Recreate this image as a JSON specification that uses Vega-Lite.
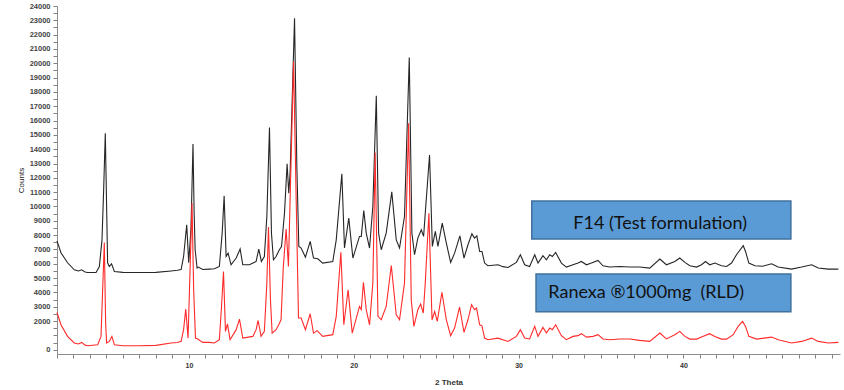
{
  "$schema": "https://vega.github.io/schema/vega-lite/v6.json",
  "width": 783,
  "height": 348,
  "autosize": {"type": "none"},
  "padding": {"left": 57, "top": 6, "right": 4, "bottom": 36},
  "background": "white",
  "config": {"view": {"stroke": null}},
  "resolve": {"axis": {"x": "independent", "y": "independent"}},
  "datasets": {
    "f14": [
      {"theta": 2.0, "counts": 7600}, {"theta": 2.24, "counts": 6770}, {"theta": 2.64, "counts": 6070}, {"theta": 3.05, "counts": 5580}, {"theta": 3.3, "counts": 5500}, {"theta": 3.5, "counts": 5580}, {"theta": 3.7, "counts": 5430}, {"theta": 3.86, "counts": 5390}, {"theta": 4.37, "counts": 5390}, {"theta": 4.57, "counts": 5810}, {"theta": 4.73, "counts": 7670}, {"theta": 4.83, "counts": 11160}, {"theta": 4.93, "counts": 15120}, {"theta": 5.01, "counts": 10000}, {"theta": 5.07, "counts": 6070}, {"theta": 5.17, "counts": 5810}, {"theta": 5.31, "counts": 6000}, {"theta": 5.48, "counts": 5460}, {"theta": 6.0, "counts": 5400}, {"theta": 7.0, "counts": 5390}, {"theta": 8.0, "counts": 5400}, {"theta": 8.92, "counts": 5500}, {"theta": 9.3, "counts": 5550}, {"theta": 9.53, "counts": 5600}, {"theta": 9.68, "counts": 6510}, {"theta": 9.87, "counts": 8720}, {"theta": 9.99, "counts": 6070}, {"theta": 10.13, "counts": 8500}, {"theta": 10.25, "counts": 14370}, {"theta": 10.32, "counts": 9500}, {"theta": 10.38, "counts": 6980}, {"theta": 10.5, "counts": 5700}, {"theta": 10.58, "counts": 5770}, {"theta": 10.84, "counts": 5600}, {"theta": 11.24, "counts": 5630}, {"theta": 11.55, "counts": 5650}, {"theta": 11.85, "counts": 5810}, {"theta": 12.02, "counts": 8140}, {"theta": 12.14, "counts": 10740}, {"theta": 12.26, "counts": 6510}, {"theta": 12.38, "counts": 6740}, {"theta": 12.56, "counts": 5930}, {"theta": 12.87, "counts": 6400}, {"theta": 13.11, "counts": 7030}, {"theta": 13.27, "counts": 5930}, {"theta": 13.67, "counts": 5930}, {"theta": 14.08, "counts": 6160}, {"theta": 14.24, "counts": 7030}, {"theta": 14.4, "counts": 6160}, {"theta": 14.58, "counts": 6510}, {"theta": 14.73, "counts": 9300}, {"theta": 14.89, "counts": 15510}, {"theta": 15.01, "counts": 8140}, {"theta": 15.13, "counts": 6280}, {"theta": 15.29, "counts": 6510}, {"theta": 15.49, "counts": 6980}, {"theta": 15.62, "counts": 7210}, {"theta": 15.8, "counts": 9530}, {"theta": 15.96, "counts": 12980}, {"theta": 16.06, "counts": 10930}, {"theta": 16.14, "counts": 12330}, {"theta": 16.41, "counts": 23140}, {"theta": 16.55, "counts": 12790}, {"theta": 16.67, "counts": 7210}, {"theta": 16.81, "counts": 7100}, {"theta": 17.07, "counts": 6460}, {"theta": 17.36, "counts": 7560}, {"theta": 17.56, "counts": 6400}, {"theta": 17.82, "counts": 6350}, {"theta": 18.12, "counts": 6050}, {"theta": 18.73, "counts": 6160}, {"theta": 18.94, "counts": 7670}, {"theta": 19.28, "counts": 12280}, {"theta": 19.44, "counts": 7100}, {"theta": 19.7, "counts": 9190}, {"theta": 19.95, "counts": 6400}, {"theta": 20.35, "counts": 7910}, {"theta": 20.46, "counts": 7910}, {"theta": 20.61, "counts": 9720}, {"theta": 20.76, "counts": 8140}, {"theta": 20.96, "counts": 7100}, {"theta": 21.16, "counts": 10000}, {"theta": 21.37, "counts": 17740}, {"theta": 21.51, "counts": 8140}, {"theta": 21.67, "counts": 6980}, {"theta": 21.97, "counts": 8140}, {"theta": 22.31, "counts": 11020}, {"theta": 22.58, "counts": 7670}, {"theta": 22.78, "counts": 7100}, {"theta": 23.08, "counts": 9300}, {"theta": 23.37, "counts": 20400}, {"theta": 23.53, "counts": 8140}, {"theta": 23.69, "counts": 6630}, {"theta": 23.89, "counts": 7790}, {"theta": 24.1, "counts": 8370}, {"theta": 24.24, "counts": 7910}, {"theta": 24.34, "counts": 9530}, {"theta": 24.6, "counts": 13600}, {"theta": 24.77, "counts": 7210}, {"theta": 24.95, "counts": 8260}, {"theta": 25.11, "counts": 7210}, {"theta": 25.37, "counts": 8840}, {"theta": 25.62, "counts": 7440}, {"theta": 25.88, "counts": 6090}, {"theta": 26.12, "counts": 6740}, {"theta": 26.44, "counts": 7950}, {"theta": 26.69, "counts": 6400}, {"theta": 26.93, "counts": 7330}, {"theta": 27.17, "counts": 8090}, {"theta": 27.33, "counts": 7790}, {"theta": 27.47, "counts": 7950}, {"theta": 27.64, "counts": 6860}, {"theta": 27.78, "counts": 6860}, {"theta": 27.94, "counts": 6050}, {"theta": 28.14, "counts": 5860}, {"theta": 28.45, "counts": 5900}, {"theta": 28.75, "counts": 5930}, {"theta": 29.05, "counts": 5800}, {"theta": 29.36, "counts": 5740}, {"theta": 29.87, "counts": 6100}, {"theta": 30.11, "counts": 6630}, {"theta": 30.37, "counts": 5930}, {"theta": 30.67, "counts": 5810}, {"theta": 30.98, "counts": 6630}, {"theta": 31.18, "counts": 6050}, {"theta": 31.48, "counts": 6560}, {"theta": 31.69, "counts": 6280}, {"theta": 31.89, "counts": 6630}, {"theta": 32.05, "counts": 6510}, {"theta": 32.25, "counts": 6790}, {"theta": 32.6, "counts": 6050}, {"theta": 32.9, "counts": 5770}, {"theta": 33.3, "counts": 5930}, {"theta": 33.61, "counts": 6050}, {"theta": 33.81, "counts": 6160}, {"theta": 34.12, "counts": 5930}, {"theta": 34.42, "counts": 6050}, {"theta": 34.82, "counts": 6230}, {"theta": 35.12, "counts": 5860}, {"theta": 35.53, "counts": 5770}, {"theta": 36.14, "counts": 5810}, {"theta": 36.75, "counts": 5770}, {"theta": 37.35, "counts": 5770}, {"theta": 37.96, "counts": 5700}, {"theta": 38.57, "counts": 6330}, {"theta": 38.97, "counts": 5930}, {"theta": 39.48, "counts": 6160}, {"theta": 39.78, "counts": 6400}, {"theta": 40.09, "counts": 6100}, {"theta": 40.39, "counts": 5860}, {"theta": 40.8, "counts": 5770}, {"theta": 41.1, "counts": 5930}, {"theta": 41.34, "counts": 6160}, {"theta": 41.6, "counts": 5930}, {"theta": 41.91, "counts": 6050}, {"theta": 42.31, "counts": 5860}, {"theta": 42.62, "counts": 5810}, {"theta": 42.92, "counts": 6050}, {"theta": 43.22, "counts": 6630}, {"theta": 43.63, "counts": 7260}, {"theta": 43.77, "counts": 6860}, {"theta": 43.97, "counts": 6050}, {"theta": 44.34, "counts": 5860}, {"theta": 44.8, "counts": 5830}, {"theta": 45.35, "counts": 6000}, {"theta": 45.75, "counts": 5770}, {"theta": 46.56, "counts": 5630}, {"theta": 47.17, "counts": 5770}, {"theta": 47.78, "counts": 5930}, {"theta": 48.18, "counts": 5700}, {"theta": 48.79, "counts": 5630}, {"theta": 49.4, "counts": 5630}
    ],
    "rld": [
      {"theta": 2.0, "counts": 2600}, {"theta": 2.24, "counts": 1740}, {"theta": 2.64, "counts": 930}, {"theta": 3.05, "counts": 470}, {"theta": 3.3, "counts": 400}, {"theta": 3.5, "counts": 510}, {"theta": 3.7, "counts": 320}, {"theta": 3.86, "counts": 280}, {"theta": 4.47, "counts": 350}, {"theta": 4.67, "counts": 930}, {"theta": 4.77, "counts": 4190}, {"theta": 4.87, "counts": 7490}, {"theta": 4.95, "counts": 1860}, {"theta": 5.01, "counts": 470}, {"theta": 5.17, "counts": 580}, {"theta": 5.33, "counts": 930}, {"theta": 5.48, "counts": 350}, {"theta": 6.0, "counts": 280}, {"theta": 7.0, "counts": 280}, {"theta": 8.0, "counts": 300}, {"theta": 8.92, "counts": 470}, {"theta": 9.3, "counts": 500}, {"theta": 9.53, "counts": 580}, {"theta": 9.68, "counts": 1400}, {"theta": 9.81, "counts": 2840}, {"theta": 9.95, "counts": 810}, {"theta": 10.19, "counts": 10230}, {"theta": 10.29, "counts": 4190}, {"theta": 10.4, "counts": 810}, {"theta": 10.54, "counts": 740}, {"theta": 10.84, "counts": 510}, {"theta": 11.24, "counts": 510}, {"theta": 11.55, "counts": 470}, {"theta": 11.85, "counts": 700}, {"theta": 11.98, "counts": 3020}, {"theta": 12.1, "counts": 5460}, {"theta": 12.22, "counts": 1280}, {"theta": 12.34, "counts": 1810}, {"theta": 12.5, "counts": 700}, {"theta": 12.87, "counts": 1400}, {"theta": 13.07, "counts": 2140}, {"theta": 13.27, "counts": 810}, {"theta": 13.88, "counts": 930}, {"theta": 14.08, "counts": 1400}, {"theta": 14.2, "counts": 2040}, {"theta": 14.38, "counts": 930}, {"theta": 14.58, "counts": 1280}, {"theta": 14.73, "counts": 4650}, {"theta": 14.83, "counts": 8560}, {"theta": 14.95, "counts": 3490}, {"theta": 15.05, "counts": 1160}, {"theta": 15.29, "counts": 1400}, {"theta": 15.45, "counts": 1740}, {"theta": 15.59, "counts": 2090}, {"theta": 15.73, "counts": 5810}, {"theta": 15.9, "counts": 8420}, {"theta": 16.04, "counts": 5810}, {"theta": 16.35, "counts": 20120}, {"theta": 16.51, "counts": 10470}, {"theta": 16.65, "counts": 2210}, {"theta": 16.81, "counts": 2210}, {"theta": 17.07, "counts": 1400}, {"theta": 17.36, "counts": 2510}, {"theta": 17.56, "counts": 1160}, {"theta": 17.78, "counts": 1330}, {"theta": 18.12, "counts": 930}, {"theta": 18.73, "counts": 1050}, {"theta": 18.94, "counts": 2330}, {"theta": 19.22, "counts": 6810}, {"theta": 19.4, "counts": 1740}, {"theta": 19.66, "counts": 4190}, {"theta": 19.91, "counts": 1160}, {"theta": 20.35, "counts": 3020}, {"theta": 20.46, "counts": 2790}, {"theta": 20.59, "counts": 4700}, {"theta": 20.76, "counts": 2790}, {"theta": 20.96, "counts": 1740}, {"theta": 21.16, "counts": 4650}, {"theta": 21.3, "counts": 13770}, {"theta": 21.47, "counts": 2330}, {"theta": 21.67, "counts": 2090}, {"theta": 21.97, "counts": 3020}, {"theta": 22.28, "counts": 5880}, {"theta": 22.58, "counts": 2440}, {"theta": 22.78, "counts": 2090}, {"theta": 23.08, "counts": 4650}, {"theta": 23.33, "counts": 15810}, {"theta": 23.49, "counts": 3490}, {"theta": 23.65, "counts": 1630}, {"theta": 23.89, "counts": 2790}, {"theta": 24.06, "counts": 3190}, {"theta": 24.22, "counts": 2560}, {"theta": 24.34, "counts": 4650}, {"theta": 24.56, "counts": 9530}, {"theta": 24.75, "counts": 2090}, {"theta": 24.91, "counts": 2670}, {"theta": 25.07, "counts": 1980}, {"theta": 25.35, "counts": 4010}, {"theta": 25.62, "counts": 2090}, {"theta": 25.88, "counts": 980}, {"theta": 26.12, "counts": 1510}, {"theta": 26.42, "counts": 2980}, {"theta": 26.69, "counts": 1210}, {"theta": 26.93, "counts": 2090}, {"theta": 27.15, "counts": 3140}, {"theta": 27.33, "counts": 2790}, {"theta": 27.45, "counts": 2910}, {"theta": 27.64, "counts": 1740}, {"theta": 27.78, "counts": 1670}, {"theta": 27.94, "counts": 810}, {"theta": 28.14, "counts": 700}, {"theta": 28.75, "counts": 810}, {"theta": 29.36, "counts": 580}, {"theta": 29.87, "counts": 930}, {"theta": 30.11, "counts": 1400}, {"theta": 30.37, "counts": 810}, {"theta": 30.67, "counts": 750}, {"theta": 30.98, "counts": 1630}, {"theta": 31.18, "counts": 930}, {"theta": 31.48, "counts": 1560}, {"theta": 31.69, "counts": 1160}, {"theta": 31.89, "counts": 1510}, {"theta": 32.05, "counts": 1400}, {"theta": 32.25, "counts": 1740}, {"theta": 32.6, "counts": 980}, {"theta": 32.9, "counts": 700}, {"theta": 33.3, "counts": 930}, {"theta": 33.61, "counts": 980}, {"theta": 33.81, "counts": 1120}, {"theta": 34.12, "counts": 880}, {"theta": 34.52, "counts": 930}, {"theta": 34.82, "counts": 1050}, {"theta": 35.12, "counts": 750}, {"theta": 35.53, "counts": 700}, {"theta": 36.14, "counts": 750}, {"theta": 36.75, "counts": 750}, {"theta": 37.35, "counts": 650}, {"theta": 37.96, "counts": 580}, {"theta": 38.57, "counts": 1160}, {"theta": 38.97, "counts": 750}, {"theta": 39.48, "counts": 1050}, {"theta": 39.78, "counts": 1280}, {"theta": 40.09, "counts": 930}, {"theta": 40.39, "counts": 740}, {"theta": 40.8, "counts": 740}, {"theta": 41.1, "counts": 880}, {"theta": 41.59, "counts": 1120}, {"theta": 41.91, "counts": 930}, {"theta": 42.31, "counts": 740}, {"theta": 42.62, "counts": 740}, {"theta": 43.02, "counts": 1050}, {"theta": 43.32, "counts": 1630}, {"theta": 43.59, "counts": 1980}, {"theta": 43.77, "counts": 1630}, {"theta": 43.97, "counts": 930}, {"theta": 44.44, "counts": 740}, {"theta": 45.35, "counts": 880}, {"theta": 45.75, "counts": 700}, {"theta": 46.56, "counts": 470}, {"theta": 47.17, "counts": 580}, {"theta": 47.78, "counts": 810}, {"theta": 48.18, "counts": 580}, {"theta": 48.79, "counts": 470}, {"theta": 49.4, "counts": 510}
    ],
    "boxes": [
      {"theta": 30.8, "theta2": 46.52, "counts": 7731, "counts2": 10384},
      {"theta": 31.06, "theta2": 46.52, "counts": 2654, "counts2": 5287}
    ],
    "labels": [
      {"label": "F14 (Test formulation)", "theta": 38.59, "counts": 8757},
      {"label": "Ranexa ®1000mg\u00a0\u00a0(RLD)", "theta": 37.74, "counts": 3960}
    ]
  },
  "layer": [
    {
      "data": {"name": "f14"},
      "mark": {"type": "line", "color": "#262626", "strokeWidth": 1.1},
      "encoding": {
        "x": {
          "field": "theta", "type": "quantitative",
          "scale": {"domain": [2, 49.5], "nice": false, "zero": false},
          "axis": {
            "orient": "bottom",
            "title": "2 Theta",
            "tickCount": 48,
            "labelExpr": "datum.value % 10 === 0 ? datum.label : ''",
            "format": "d",
            "grid": false,
            "tickSize": 4,
            "tickColor": "#808080",
            "domainColor": "#8c8c8c",
            "labelFont": "Liberation Sans",
            "labelFontSize": 7,
            "labelFontWeight": "bold",
            "labelColor": "#333333",
            "labelPadding": 3,
            "titleFont": "Liberation Sans",
            "titleFontSize": 8,
            "titleFontWeight": "bold",
            "titleColor": "#333333",
            "titlePadding": 10
          }
        },
        "y": {
          "field": "counts", "type": "quantitative",
          "scale": {"domain": [-300, 24000], "nice": false, "zero": false},
          "axis": {
            "orient": "left",
            "title": "Counts",
            "tickCount": 48,
            "labelExpr": "(datum.value % 1000 === 0 && datum.value !== 1000) ? datum.label : ''",
            "format": "d",
            "grid": false,
            "tickSize": 4,
            "tickColor": "#808080",
            "domainColor": "#8c8c8c",
            "labelFont": "Liberation Sans",
            "labelFontSize": 7.5,
            "labelFontWeight": "bold",
            "labelColor": "#444444",
            "labelPadding": 3,
            "titleFont": "Liberation Sans",
            "titleFontSize": 8,
            "titleFontWeight": "normal",
            "titleColor": "#222222",
            "titlePadding": 4
          }
        }
      }
    },
    {
      "data": {"name": "rld"},
      "mark": {"type": "line", "color": "#ff2a2a", "strokeWidth": 1.1},
      "encoding": {
        "x": {"field": "theta", "type": "quantitative", "scale": {"domain": [2, 49.5], "nice": false, "zero": false}, "axis": null},
        "y": {"field": "counts", "type": "quantitative", "scale": {"domain": [-300, 24000], "nice": false, "zero": false}, "axis": null}
      }
    },
    {
      "data": {"name": "boxes"},
      "mark": {"type": "rect", "fill": "#5b9bd5", "stroke": "#41719c", "strokeWidth": 1.5},
      "encoding": {
        "x": {"field": "theta", "type": "quantitative", "scale": {"domain": [2, 49.5], "nice": false, "zero": false}, "axis": null},
        "x2": {"field": "theta2"},
        "y": {"field": "counts", "type": "quantitative", "scale": {"domain": [-300, 24000], "nice": false, "zero": false}, "axis": null},
        "y2": {"field": "counts2"}
      }
    },
    {
      "data": {"name": "labels"},
      "mark": {"type": "text", "font": "Lato", "fontSize": 18, "color": "#111111", "align": "center", "baseline": "middle"},
      "encoding": {
        "x": {"field": "theta", "type": "quantitative", "scale": {"domain": [2, 49.5], "nice": false, "zero": false}, "axis": null},
        "y": {"field": "counts", "type": "quantitative", "scale": {"domain": [-300, 24000], "nice": false, "zero": false}, "axis": null},
        "text": {"field": "label"}
      }
    }
  ]
}
